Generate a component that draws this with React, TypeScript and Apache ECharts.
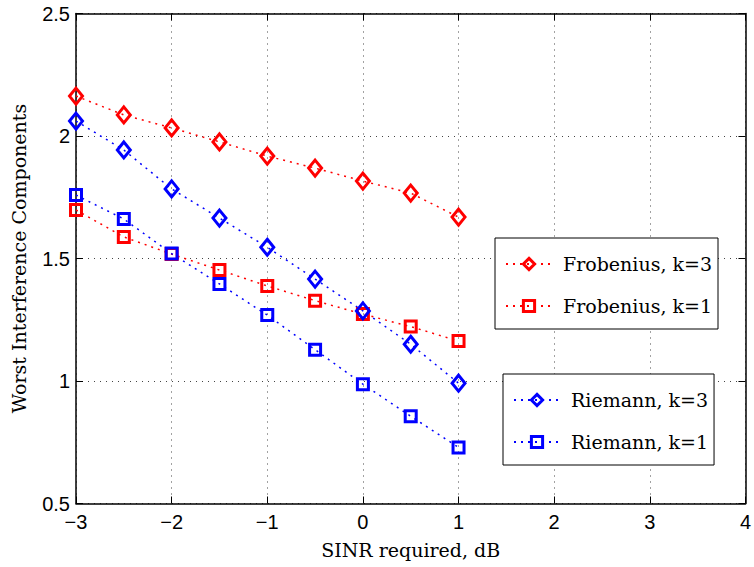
import React, { useEffect, useRef } from "react";
import * as echarts from "echarts";

// SINR required (dB) at which each scheme was evaluated
const sinrDb = [-3, -2.5, -2, -1.5, -1, -0.5, 0, 0.5, 1];

// Worst interference components per scheme
const frobeniusK3 = [2.163, 2.086, 2.033, 1.976, 1.918, 1.869, 1.816, 1.767, 1.669];
const frobeniusK1 = [1.698, 1.588, 1.518, 1.453, 1.388, 1.328, 1.273, 1.222, 1.163];
const riemannK3 = [2.061, 1.943, 1.784, 1.665, 1.546, 1.416, 1.286, 1.15, 0.991];
const riemannK1 = [1.759, 1.661, 1.52, 1.396, 1.269, 1.128, 0.987, 0.856, 0.729];

const seriesNames = ["Frobenius, k=3", "Frobenius, k=1", "Riemann, k=3", "Riemann, k=1"];

const RED = "#ff0000";
const BLUE = "#0000ff";
const SERIF = "'DejaVu Serif', 'Liberation Serif', serif";
const SANS = "'Liberation Sans', Arial, sans-serif";

const pairs = (ys: number[]) => sinrDb.map((x, i) => [x, ys[i]]);

function makeSeries(name: string, ys: number[], color: string, symbol: string) {
  const isDiamond = symbol === "diamond";
  return {
    name,
    type: "line",
    data: pairs(ys),
    symbol,
    symbolSize: isDiamond ? [13, 16] : 11,
    lineStyle: { color, width: 1.5, type: [2, 5] },
    itemStyle: { color: "rgba(255,255,255,0)", borderColor: color, borderWidth: 3 },
    color,
    emphasis: { disabled: true },
    z: 3,
  };
}

const legendCommon = {
  orient: "vertical",
  backgroundColor: "#ffffff",
  borderColor: "#000000",
  borderWidth: 1,
  borderRadius: 0,
  itemWidth: 46,
  itemHeight: 14,
  itemGap: 22,
  padding: [16, 6, 13, 10],
  itemStyle: { borderWidth: 3 },
  textStyle: { fontFamily: SERIF, fontSize: 19, color: "#000", lineHeight: 20, padding: [0, 0, 0, 6] },
  selectedMode: false,
};

export default function App() {
  const ref = useRef<HTMLDivElement>(null);

  useEffect(() => {
    if (!ref.current) return;
    const chart = echarts.init(ref.current, null, { renderer: "svg" });
    const tickFmt = (v: number) => String(v).replace("-", "\u2212");
    chart.setOption({
      animation: false,
      backgroundColor: "#ffffff",
      grid: { left: 76, right: 6, top: 13.5, bottom: 63.5, containLabel: false },
      legend: [
        { ...legendCommon, data: [seriesNames[0], seriesNames[1]], left: 495, top: 238 },
        { ...legendCommon, data: [seriesNames[2], seriesNames[3]], left: 503, top: 374 },
      ],
      xAxis: [
        {
          type: "value",
          min: -3,
          max: 4,
          interval: 1,
          position: "bottom",
          name: "SINR required, dB",
          nameLocation: "middle",
          nameGap: 37,
          nameTextStyle: { fontFamily: SERIF, fontSize: 19, color: "#000" },
          axisLine: { show: true, onZero: false, lineStyle: { color: "#000", width: 1.5 } },
          axisTick: { show: true, inside: true, length: 7, lineStyle: { color: "#000" } },
          axisLabel: { formatter: tickFmt, fontFamily: SANS, fontSize: 20, color: "#000", margin: 8 },
          splitLine: { show: true, lineStyle: { color: "#444", type: [1, 5], width: 1 } },
        },
        {
          type: "value",
          min: -3,
          max: 4,
          interval: 1,
          position: "top",
          axisLine: { show: true, onZero: false, lineStyle: { color: "#000", width: 1.5 } },
          axisTick: { show: true, inside: true, length: 7, lineStyle: { color: "#000" } },
          axisLabel: { show: false },
          splitLine: { show: false },
        },
      ],
      yAxis: [
        {
          type: "value",
          min: 0.5,
          max: 2.5,
          interval: 0.5,
          position: "left",
          name: "Worst Interference Components",
          nameLocation: "middle",
          nameGap: 48,
          nameRotate: 90,
          nameTextStyle: { fontFamily: SERIF, fontSize: 19, color: "#000" },
          axisLine: { show: true, onZero: false, lineStyle: { color: "#000", width: 1.5 } },
          axisTick: { show: true, inside: true, length: 7, lineStyle: { color: "#000" } },
          axisLabel: { fontFamily: SANS, fontSize: 20, color: "#000", margin: 6 },
          splitLine: { show: true, lineStyle: { color: "#444", type: [1, 5], width: 1 } },
        },
        {
          type: "value",
          min: 0.5,
          max: 2.5,
          interval: 0.5,
          position: "right",
          axisLine: { show: true, onZero: false, lineStyle: { color: "#000", width: 1.5 } },
          axisTick: { show: true, inside: true, length: 7, lineStyle: { color: "#000" } },
          axisLabel: { show: false },
          splitLine: { show: false },
        },
      ],
      series: [
        makeSeries(seriesNames[0], frobeniusK3, RED, "diamond"),
        makeSeries(seriesNames[1], frobeniusK1, RED, "rect"),
        makeSeries(seriesNames[2], riemannK3, BLUE, "diamond"),
        makeSeries(seriesNames[3], riemannK1, BLUE, "rect"),
      ],
    });
    return () => chart.dispose();
  }, []);

  return <div ref={ref} style={{ width: 754, height: 567, position: "absolute", left: 0, top: 0 }} />;
}
